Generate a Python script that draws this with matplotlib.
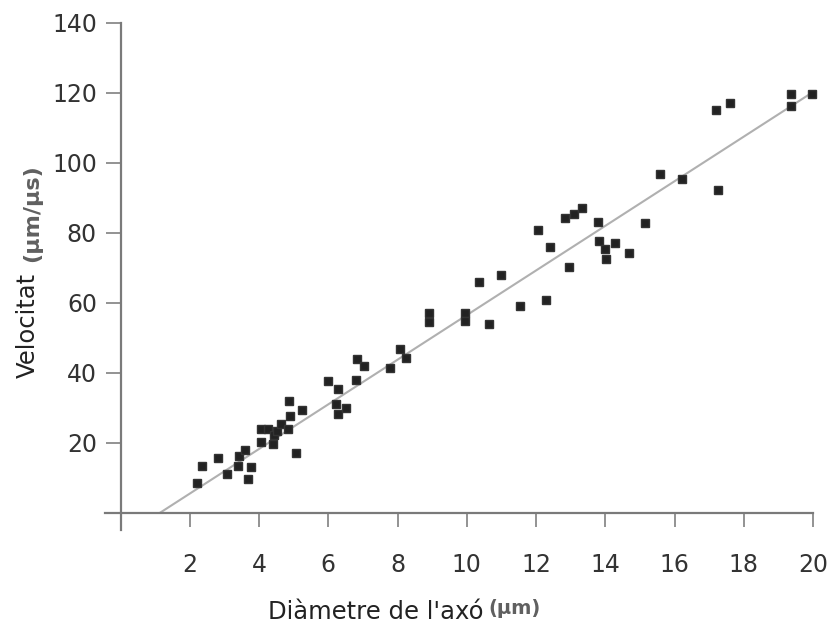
import matplotlib
matplotlib.use("Agg")
import matplotlib.pyplot as plt
import numpy as np

# Data
diameter = [2.22, 2.35, 2.80, 3.08, 3.39, 3.41, 3.59, 3.78, 3.68, 4.07,
            4.07, 4.26, 4.39, 4.44, 4.52, 4.63, 4.85, 4.86, 4.90, 5.07,
            5.24, 5.99, 6.27, 6.22, 6.27, 6.51, 6.81, 6.84, 7.04, 7.78,
            8.07, 8.23, 8.92, 8.92, 9.95, 9.95, 10.34, 10.98, 10.63, 11.54,
            12.30, 12.07, 12.40, 12.96, 12.84, 13.09, 13.33, 13.78, 13.82, 14.00,
            14.01, 14.29, 14.69, 15.14, 16.22, 15.59, 17.26, 17.19, 17.61, 19.37,
            19.37, 19.96]
velocity = [8.3, 13.3, 15.5, 11.1, 13.2, 16.2, 18.0, 12.9, 9.7, 20.1,
            24.0, 24.0, 19.6, 22.2, 23.2, 25.3, 24.0, 32.0, 27.5, 17.1,
            29.2, 37.7, 35.4, 31.0, 28.2, 29.8, 38.0, 44.0, 42.0, 41.3,
            46.8, 44.3, 57.2, 54.4, 57.0, 54.9, 65.8, 68.0, 54.0, 59.1,
            60.9, 80.9, 75.8, 70.2, 84.3, 85.5, 87.2, 83.2, 77.7, 75.4,
            72.4, 77.1, 74.3, 82.7, 95.4, 96.9, 92.2, 115.2, 117.2, 119.6,
            116.4, 119.8]

fit_slope = 6.38
fit_intercept = -7.34
fit_range = [1.15, 20.0]

x_ticks = [2, 4, 6, 8, 10, 12, 14, 16, 18, 20]
y_ticks = [20, 40, 60, 80, 100, 120, 140]

fig = plt.figure(figsize=(8.33, 6.26), dpi=100)
ax = fig.add_axes([105/833, 1-530/626, (813-105)/833, (530-23)/626])

fx = np.array(fit_range)
ax.plot(fx, fit_slope*fx + fit_intercept, color="#b0b0b0", lw=1.5, zorder=2)
ax.plot(diameter, velocity, linestyle="none", marker="s", ms=5.5,
        color="#222222", mec="#333333", zorder=3, clip_on=False)

ax.set_xlim(-0.45, 20)
ax.set_ylim(-5, 140)
for s in ["top", "right"]:
    ax.spines[s].set_visible(False)
ax.spines["left"].set_position(("data", 0))
ax.spines["bottom"].set_position(("data", 0))
for s in ["left", "bottom"]:
    ax.spines[s].set_color("#7a7a7a")
    ax.spines[s].set_linewidth(1.6)

ax.set_xticks(x_ticks)
ax.set_yticks(y_ticks)
ax.set_xticklabels([str(v) for v in x_ticks])
ax.set_yticklabels([str(v) for v in y_ticks])
ax.tick_params(axis="x", direction="out", length=10, width=1.3, color="#8a8a8a",
               pad=19, labelsize=17, labelcolor="#333333")
ax.tick_params(axis="y", direction="out", length=11, width=1.3, color="#8a8a8a",
               pad=6, labelsize=17, labelcolor="#333333")

fig.text(376/833, 1-612/626, "Diàmetre de l'axó", ha="center", va="center",
         fontsize=17.5, color="#222222")
fig.text(515/833, 1-609/626, "(µm)", ha="center", va="center",
         fontsize=14, color="#606060", family=["Liberation Sans Narrow", "DejaVu Sans"],
         fontweight="bold")
fig.text(28/833, 1-325/626, "Velocitat", ha="center", va="center", rotation=90,
         fontsize=17.5, color="#222222")
fig.text(32/833, 1-213/626, "(µm/µs)", ha="center", va="center", rotation=90,
         fontsize=16, color="#606060", family=["Liberation Sans Narrow", "DejaVu Sans"],
         fontweight="bold")

fig.savefig("out.png", dpi=100, facecolor="white")
